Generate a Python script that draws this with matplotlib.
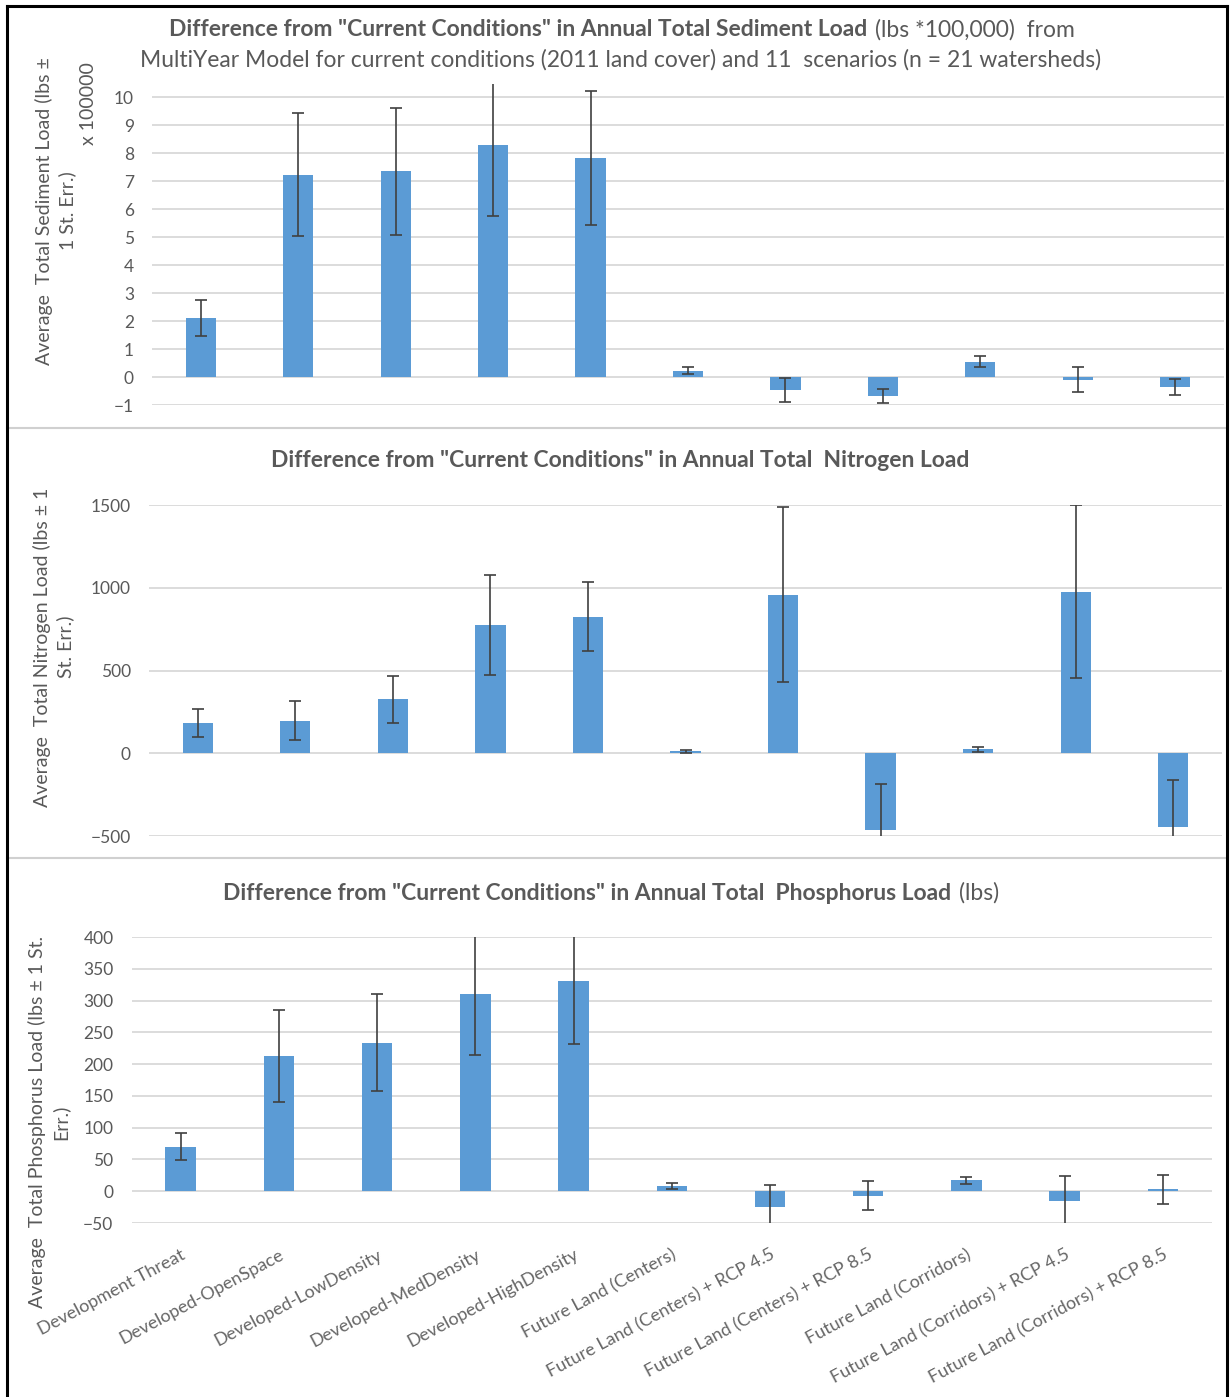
import matplotlib
matplotlib.use("Agg")
import matplotlib.pyplot as plt
from matplotlib.lines import Line2D
import numpy as np

plt.rcParams['font.family'] = ['Lato', 'DejaVu Sans']

W, H = 1231, 1397
TXT = "#595959"
BAR = "#5B9BD5"
GRID = "#D9D9D9"

scenarios = [
    "Development Threat",
    "Developed-OpenSpace",
    "Developed-LowDensity",
    "Developed-MedDensity",
    "Developed-HighDensity",
    "Future Land (Centers)",
    "Future Land (Centers) + RCP 4.5",
    "Future Land (Centers) + RCP 8.5",
    "Future Land (Corridors)",
    "Future Land (Corridors) + RCP 4.5",
    "Future Land (Corridors) + RCP 8.5",
]

# sediment in lbs x 100000
sediment = [2.12, 7.23, 7.35, 8.29, 7.82, 0.22, -0.45, -0.68, 0.55, -0.10, -0.36]
sediment_err = [0.64, 2.20, 2.28, 2.52, 2.40, 0.12, 0.43, 0.26, 0.21, 0.45, 0.28]

nitrogen = [183, 196, 325, 775, 826, 12, 958, -462, 23, 977, -443]
nitrogen_err = [82, 117, 142, 300, 208, 10, 530, 278, 17, 522, 279]

phosphorus = [70, 213, 234, 311, 330, 8, -25, -7, 17, -15, 3]
phosphorus_err = [21, 72, 77, 96, 99, 5, 35, 23, 6, 39, 23]

sed_ticks = list(range(-1, 11))
nit_ticks = [-500, 0, 500, 1000, 1500]
pho_ticks = list(range(-50, 401, 50))

fig = plt.figure(figsize=(W / 100, H / 100), dpi=100)


def px_axes(left, top, right, bottom):
    return fig.add_axes([left / W, 1 - bottom / H, (right - left) / W, (bottom - top) / H])


def bar_panel(ax, vals, errs, ticks, ylim):
    x = np.arange(len(vals))
    ax.bar(x, vals, width=0.31, color=BAR, zorder=2)
    ax.errorbar(x, vals, yerr=errs, fmt="none", ecolor="#404040",
                elinewidth=1.2, capsize=4, capthick=1.2, zorder=3)
    ax.set_xlim(-0.5, len(vals) - 0.5)
    ax.set_ylim(*ylim)
    ax.set_yticks(ticks)
    ax.yaxis.grid(True, color=GRID, linewidth=1.3, zorder=0)
    ax.set_axisbelow(True)
    for s in ax.spines.values():
        s.set_visible(False)
    ax.tick_params(length=0, labelsize=12.5, labelcolor=TXT, pad=13)
    ax.set_xticks(x)
    return x


ax1 = px_axes(152, 84, 1224, 405)
bar_panel(ax1, sediment, sediment_err, sed_ticks, (-1, 10.47))
ax1.set_xticklabels([])

ax2 = px_axes(149, 505, 1222, 836)
bar_panel(ax2, nitrogen, nitrogen_err, nit_ticks, (-500, 1500))
ax2.set_xticklabels([])

ax3 = px_axes(131.5, 937, 1212, 1223)
bar_panel(ax3, phosphorus, phosphorus_err, pho_ticks, (-50, 400))
ax3.set_xticklabels(scenarios, rotation=28, ha="right", rotation_mode="anchor",
                    fontsize=13, color="#666666")
ax3.tick_params(axis="x", pad=17)

renderer = fig.canvas.get_renderer()


def title_line(y_px, xc_px, parts, size=16.5):
    texts = [fig.text(0, 1 - y_px / H, s, fontsize=size, fontweight=w,
                      color=TXT, va="center") for s, w in parts]
    widths = [t.get_window_extent(renderer).width for t in texts]
    gap = 7
    total = sum(widths) + gap * (len(texts) - 1)
    x = xc_px - total / 2
    for t, w in zip(texts, widths):
        t.set_x(x / W)
        x += w + gap


title_line(30, 622, [('Difference from "Current Conditions" in Annual Total Sediment Load', "bold"),
                     ("(lbs *100,000)  from", "normal")])
title_line(60, 621, [("MultiYear Model for current conditions (2011 land cover) and 11  scenarios (n = 21 watersheds)", "normal")])
title_line(461, 620, [('Difference from "Current Conditions" in Annual Total  Nitrogen Load', "bold")])
title_line(893, 611, [('Difference from "Current Conditions" in Annual Total  Phosphorus Load', "bold"),
                      ("(lbs)", "normal")])

# axis titles
ylab = dict(rotation=90, ha="center", va="center", multialignment="center",
            fontsize=14, color=TXT, linespacing=1.35)
fig.text(56 / W, 1 - 211 / H, "Average  Total Sediment Load (lbs ±\n1 St. Err.)", **ylab)
fig.text(88 / W, 1 - 104 / H, "x 100000", rotation=90, ha="center", va="center",
         fontsize=14, color=TXT)
fig.text(54 / W, 1 - 647 / H, "Average  Total Nitrogen Load (lbs ± 1\nSt. Err.)", **ylab)
fig.text(49 / W, 1 - 1122 / H, "Average  Total Phosphorus Load (lbs ± 1 St.\nErr.)", **ylab)

# panel separators and frame
for yy in (428, 858):
    fig.add_artist(Line2D([7 / W, 1227 / W], [1 - yy / H] * 2, color="#D0D0D0", linewidth=1.5))
frame = dict(color="black", linewidth=2.2)
fig.add_artist(Line2D([7 / W, 7 / W], [0, 1 - 6 / H], **frame))
fig.add_artist(Line2D([1227 / W, 1227 / W], [0, 1 - 6 / H], **frame))
fig.add_artist(Line2D([7 / W, 1227 / W], [1 - 6 / H] * 2, **frame))

fig.savefig("out.png", dpi=100, facecolor="white")
